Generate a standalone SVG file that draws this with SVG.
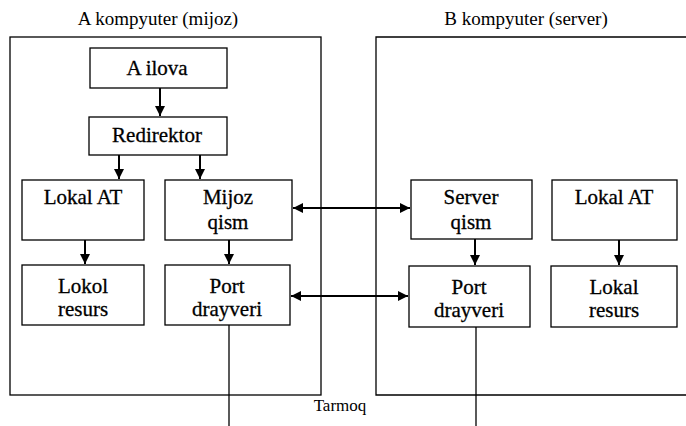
<svg xmlns="http://www.w3.org/2000/svg" width="686" height="426" viewBox="0 0 686 426">
<style>
.box{fill:#fff;stroke:#000;stroke-width:1.3}
.outer{fill:none;stroke:#000;stroke-width:1.3}
.c{stroke:#000;stroke-width:2;fill:none}
.l{stroke:#000;stroke-width:1.3;fill:none}
svg text.t{font-family:'Liberation Serif',serif !important;font-size:21px;text-anchor:middle;fill:#000;stroke:#000;stroke-width:0.3}
svg text.h{font-family:'Liberation Serif',serif !important;font-size:19px;text-anchor:middle;fill:#000}
</style>
<defs>
<marker id="ah" viewBox="0 0 10 10" refX="10" refY="5" markerWidth="5" markerHeight="5" orient="auto-start-reverse" markerUnits="strokeWidth">
<path d="M0,0 L10,5 L0,10 z" fill="#000"/>
</marker>
</defs>
<rect width="686" height="426" fill="#fff"/>
<g id="compA">
<rect class="outer" x="10" y="37" width="311" height="358"/>
<text class="h" x="158" y="25" style="font-family:'Liberation Serif',serif !important">A kompyuter (mijoz)</text>
</g>
<g id="compB">
<path class="outer" d="M690,37 H376 V395 H690"/>
<text class="h" x="526" y="25" style="font-family:'Liberation Serif',serif !important">B kompyuter (server)</text>
</g>
<g id="ailova"><rect class="box" x="90" y="48" width="137" height="40"/><text class="t" x="157" y="75" style="font-family:'Liberation Serif',serif !important">A ilova</text></g>
<g id="redirektor"><rect class="box" x="89" y="117" width="138" height="38"/><text class="t" x="157" y="142" style="font-family:'Liberation Serif',serif !important">Redirektor</text></g>
<g id="lokalAT_A"><rect class="box" x="22" y="180" width="122" height="60"/><text class="t" x="83" y="204" style="font-family:'Liberation Serif',serif !important">Lokal AT</text></g>
<g id="mijoz"><rect class="box" x="165" y="180" width="127" height="60"/><text class="t" x="228" y="204" style="font-family:'Liberation Serif',serif !important">Mijoz</text><text class="t" x="228" y="229" style="font-family:'Liberation Serif',serif !important">qism</text></g>
<g id="lokolresurs"><rect class="box" x="22" y="265" width="122" height="60"/><text class="t" x="83" y="293" style="font-family:'Liberation Serif',serif !important">Lokol</text><text class="t" x="83" y="316" style="font-family:'Liberation Serif',serif !important">resurs</text></g>
<g id="portA"><rect class="box" x="165" y="265" width="125" height="60"/><text class="t" x="227" y="293" style="font-family:'Liberation Serif',serif !important">Port</text><text class="t" x="227" y="316" style="font-family:'Liberation Serif',serif !important">drayveri</text></g>
<g id="server"><rect class="box" x="411" y="180" width="121" height="59"/><text class="t" x="471" y="204" style="font-family:'Liberation Serif',serif !important">Server</text><text class="t" x="471" y="229" style="font-family:'Liberation Serif',serif !important">qism</text></g>
<g id="lokalAT_B"><rect class="box" x="552" y="180" width="125" height="60"/><text class="t" x="614" y="204" style="font-family:'Liberation Serif',serif !important">Lokal AT</text></g>
<g id="portB"><rect class="box" x="409" y="266" width="121" height="61"/><text class="t" x="469" y="294" style="font-family:'Liberation Serif',serif !important">Port</text><text class="t" x="469" y="317" style="font-family:'Liberation Serif',serif !important">drayveri</text></g>
<g id="lokalresurs"><rect class="box" x="551" y="266" width="126" height="61"/><text class="t" x="614" y="294" style="font-family:'Liberation Serif',serif !important">Lokal</text><text class="t" x="614" y="317" style="font-family:'Liberation Serif',serif !important">resurs</text></g>
<g id="tarmoq"><text class="h" x="340" y="411" style="font-family:'Liberation Serif',serif !important;font-size:17px">Tarmoq</text></g>
<g id="connectors">
<line class="c" x1="160" y1="88" x2="160" y2="116" marker-end="url(#ah)"/>
<line class="c" x1="119" y1="155" x2="119" y2="179" marker-end="url(#ah)"/>
<line class="c" x1="200" y1="155" x2="200" y2="179" marker-end="url(#ah)"/>
<line class="c" x1="85" y1="240" x2="85" y2="264" marker-end="url(#ah)"/>
<line class="c" x1="229" y1="240" x2="229" y2="264" marker-end="url(#ah)"/>
<line class="c" x1="475" y1="239" x2="475" y2="265" marker-end="url(#ah)"/>
<line class="c" x1="619" y1="240" x2="619" y2="265" marker-end="url(#ah)"/>
<line class="c" x1="293" y1="208" x2="410" y2="208" marker-start="url(#ah)" marker-end="url(#ah)"/>
<line class="c" x1="291" y1="296" x2="408" y2="296" marker-start="url(#ah)" marker-end="url(#ah)"/>
<line class="l" x1="229" y1="325" x2="229" y2="426"/>
<line class="l" x1="476" y1="327" x2="476" y2="426"/>
</g>
</svg>
